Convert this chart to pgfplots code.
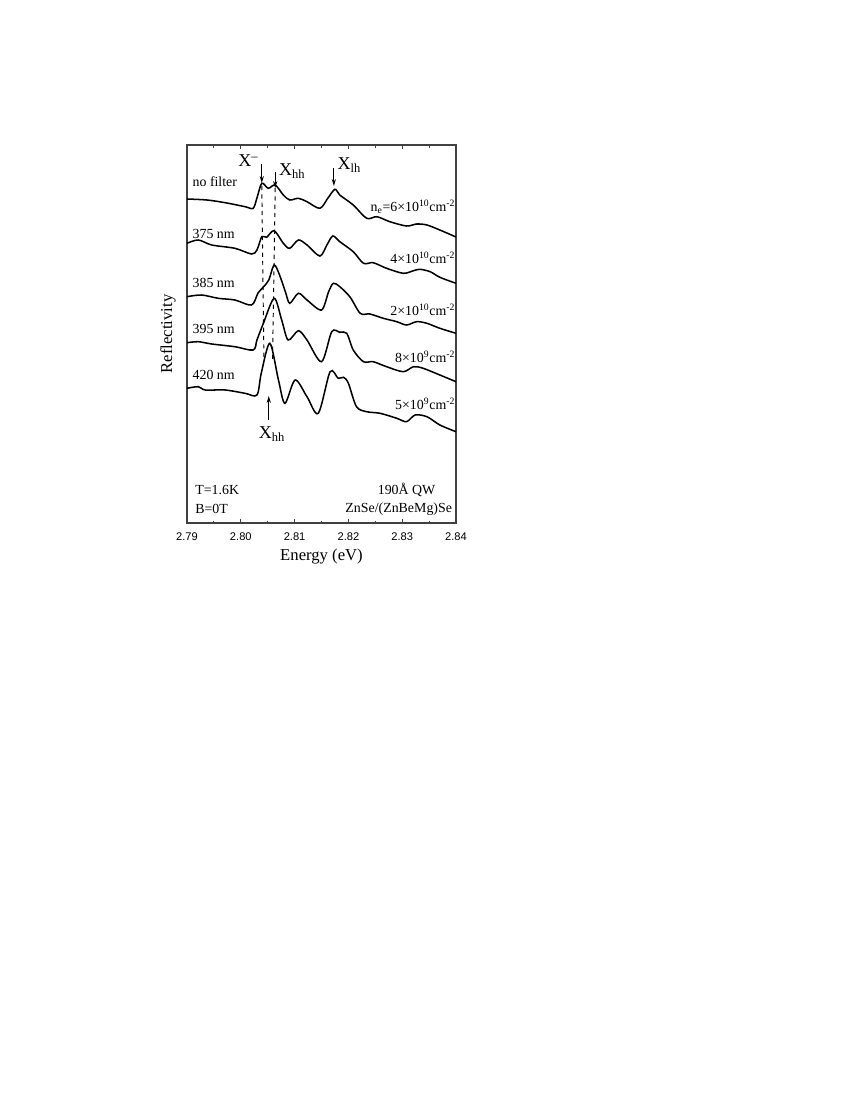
\documentclass[border=0pt]{standalone}
\usepackage{fontspec}
\setmainfont{Liberation Serif}
\setsansfont{Liberation Sans}
\usepackage{pgfplots}
\pgfplotsset{compat=1.18}
\usetikzlibrary{arrows.meta}

\begin{document}
\begin{tikzpicture}
\path[use as bounding box] (0,0) rectangle (612pt,-792pt);
\begin{axis}[
    at={(134.64pt,-376.56pt)}, anchor=south west,
    scale only axis,
    width=193.68pt, height=272.16pt,
    xmin=2.79, xmax=2.84,
    ymin=-523, ymax=-145,
    xtick={2.79,2.80,...,2.84},
    minor x tick num=1,
    ytick=\empty,
    tick align=inside,
    xtick pos=both,
    major tick length=3pt,
    minor tick length=1.8pt,
    axis line style={line width=0.8pt, black!75},
    every tick/.style={black!75, line width=0.6pt},
    xticklabel style={font=\sffamily\fontsize{8}{9}\selectfont, yshift=-3.5pt, /pgf/number format/fixed, /pgf/number format/fixed zerofill, /pgf/number format/precision=2, /pgf/number format/assume math mode=true},
    xlabel={Energy (eV)},
    ylabel={Reflectivity},
    xlabel style={font=\fontsize{12}{14}\selectfont, at={(axis description cs:0.5,-0.088)}, anchor=center},
    ylabel style={font=\fontsize{12}{14}\selectfont, at={(axis description cs:-0.07,0.5)}, anchor=center},
    clip=false,
  ]
  % no filter
  \addplot[black, line width=1.1pt, smooth, tension=0.5] coordinates {
    (2.7900,-199) (2.7937,-200) (2.7971,-202.7) (2.8008,-206.7) (2.8023,-208.3)
    (2.8030,-198) (2.8039,-183.3) (2.8051,-188.3) (2.8064,-185) (2.8079,-195)
    (2.8091,-200) (2.8107,-198.3) (2.8123,-201.7) (2.8147,-208.3) (2.8162,-198)
    (2.8175,-189.3) (2.8184,-195) (2.8209,-205) (2.8234,-218.3) (2.8253,-216.7)
    (2.8277,-221.7) (2.8308,-226) (2.8327,-224) (2.8346,-225) (2.8370,-230)
    (2.8400,-237)
  };
  % 375 nm
  \addplot[black, line width=1.1pt, smooth, tension=0.5] coordinates {
    (2.7900,-243.3) (2.7921,-240) (2.7946,-245) (2.7989,-248.3) (2.8020,-254)
    (2.8030,-250) (2.8039,-236.7) (2.8048,-237.3) (2.8062,-230.7) (2.8079,-243.3)
    (2.8091,-248.3) (2.8107,-240) (2.8123,-245) (2.8147,-256) (2.8160,-245)
    (2.8171,-236) (2.8184,-241.7) (2.8209,-251.7) (2.8228,-263.3) (2.8246,-262.7)
    (2.8271,-268.3) (2.8302,-273.3) (2.8321,-270.7) (2.8333,-269.3) (2.8352,-271.7)
    (2.8370,-277.3) (2.8400,-283.3)
  };
  % 385 nm
  \addplot[black, line width=1.1pt, smooth, tension=0.5] coordinates {
    (2.7900,-296.7) (2.7927,-295) (2.7958,-298.3) (2.7989,-300) (2.8020,-305)
    (2.8032,-293) (2.8042,-287) (2.8052,-280) (2.8062,-265) (2.8072,-275)
    (2.8083,-292) (2.8091,-303.3) (2.8107,-293.3) (2.8123,-300) (2.8150,-310)
    (2.8163,-292) (2.8172,-283.3) (2.8184,-286.7) (2.8203,-297) (2.8222,-313.3)
    (2.8240,-314) (2.8265,-318.3) (2.8290,-321.7) (2.8308,-325) (2.8327,-321.7)
    (2.8346,-323.3) (2.8370,-328.3) (2.8400,-333.3)
  };
  % 395 nm
  \addplot[black, line width=1.1pt, smooth, tension=0.5] coordinates {
    (2.7900,-342.7) (2.7921,-341.7) (2.7946,-344) (2.7989,-346.7) (2.8023,-350)
    (2.8030,-340) (2.8042,-323.3) (2.8062,-298.3) (2.8076,-320) (2.8088,-340)
    (2.8107,-330.7) (2.8123,-340) (2.8150,-361.7) (2.8169,-331.7) (2.8184,-332.3)
    (2.8197,-333.3) (2.8209,-350) (2.8228,-361.7) (2.8246,-361.7) (2.8271,-366.7)
    (2.8302,-371.7) (2.8321,-366.7) (2.8339,-368.3) (2.8370,-375) (2.8400,-381.7)
  };
  % 420 nm
  \addplot[black, line width=1.1pt, smooth, tension=0.5] coordinates {
    (2.7900,-388.3) (2.7921,-386.7) (2.7934,-390) (2.7971,-390) (2.8008,-393.3)
    (2.8030,-395) (2.8038,-373.3) (2.8054,-343.3) (2.8070,-380) (2.8082,-403.3)
    (2.8101,-380) (2.8123,-396.7) (2.8144,-413.3) (2.8166,-371.7) (2.8181,-378.3)
    (2.8191,-377.3) (2.8200,-383.3) (2.8215,-406.7) (2.8234,-411.7) (2.8259,-413.3)
    (2.8290,-418.3) (2.8308,-421.7) (2.8324,-415) (2.8346,-416.7) (2.8370,-425)
    (2.8400,-431.7)
  };

  % dashed guides
  \draw[dashed, line width=0.7pt] (axis cs:2.8039,-186) -- (axis cs:2.8043,-360);
  \draw[dashed, line width=0.7pt] (axis cs:2.8064,-188) -- (axis cs:2.8059,-360);

  % arrows
  \draw[-{Stealth[length=5pt,width=3pt]}, line width=0.6pt] (axis cs:2.8039,-164) -- (axis cs:2.8039,-183);
  \draw[-{Stealth[length=5pt,width=3pt]}, line width=0.6pt] (axis cs:2.8064,-172) -- (axis cs:2.8064,-188);
  \draw[-{Stealth[length=5pt,width=3pt]}, line width=0.6pt] (axis cs:2.8173,-168) -- (axis cs:2.8173,-186);
  \draw[-{Stealth[length=5pt,width=3pt]}, line width=0.6pt] (axis cs:2.8052,-420) -- (axis cs:2.8052,-396);

  % peak labels
  \node[anchor=east, inner sep=1pt, font=\fontsize{13}{15}\selectfont] at (axis cs:2.8036,-161) {X\textsuperscript{–}};
  \node[anchor=west, inner sep=1pt, font=\fontsize{13}{15}\selectfont] at (axis cs:2.8068,-171) {X\textsubscript{\fontsize{9}{10}\selectfont hh}};
  \node[anchor=west, inner sep=1pt, font=\fontsize{13}{15}\selectfont] at (axis cs:2.8177,-165) {X\textsubscript{\fontsize{9}{10}\selectfont lh}};
  \node[anchor=center, inner sep=1pt, font=\fontsize{13}{15}\selectfont] at (axis cs:2.8058,-434) {X\textsubscript{\fontsize{9}{10}\selectfont hh}};

  % filter labels
  \node[anchor=west, inner sep=0pt, font=\fontsize{10}{12}\selectfont] at (axis cs:2.7910,-182) {no filter};
  \node[anchor=west, inner sep=0pt, font=\fontsize{10}{12}\selectfont] at (axis cs:2.7910,-234) {375 nm};
  \node[anchor=west, inner sep=0pt, font=\fontsize{10}{12}\selectfont] at (axis cs:2.7910,-283) {385 nm};
  \node[anchor=west, inner sep=0pt, font=\fontsize{10}{12}\selectfont] at (axis cs:2.7910,-329) {395 nm};
  \node[anchor=west, inner sep=0pt, font=\fontsize{10}{12}\selectfont] at (axis cs:2.7910,-375) {420 nm};

  % density labels
  \node[anchor=east, inner sep=0pt, font=\fontsize{10}{12}\selectfont] at (axis cs:2.8399,-207) {n\textsubscript{e}=6×10\textsuperscript{10}cm\textsuperscript{-2}};
  \node[anchor=east, inner sep=0pt, font=\fontsize{10}{12}\selectfont] at (axis cs:2.8399,-258) {4×10\textsuperscript{10}cm\textsuperscript{-2}};
  \node[anchor=east, inner sep=0pt, font=\fontsize{10}{12}\selectfont] at (axis cs:2.8399,-310) {2×10\textsuperscript{10}cm\textsuperscript{-2}};
  \node[anchor=east, inner sep=0pt, font=\fontsize{10}{12}\selectfont] at (axis cs:2.8399,-357) {8×10\textsuperscript{9}cm\textsuperscript{-2}};
  \node[anchor=east, inner sep=0pt, font=\fontsize{10}{12}\selectfont] at (axis cs:2.8399,-404) {5×10\textsuperscript{9}cm\textsuperscript{-2}};

  % conditions
  \node[anchor=west, inner sep=0pt, font=\fontsize{10}{12}\selectfont] at (axis cs:2.7915,-490) {T=1.6K};
  \node[anchor=west, inner sep=0pt, font=\fontsize{10}{12}\selectfont] at (axis cs:2.7915,-509) {B=0T};
  \node[anchor=east, inner sep=0pt, font=\fontsize{10}{12}\selectfont] at (axis cs:2.8362,-490) {190Å QW};
  \node[anchor=east, inner sep=0pt, font=\fontsize{10}{12}\selectfont] at (axis cs:2.8393,-509) {ZnSe/(ZnBeMg)Se};
\end{axis}
\end{tikzpicture}
\end{document}
